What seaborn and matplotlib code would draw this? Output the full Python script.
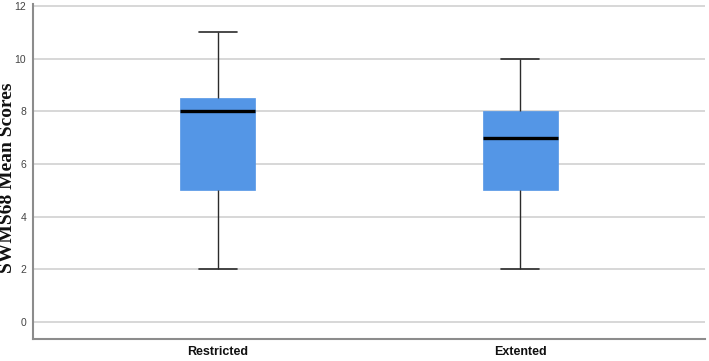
import matplotlib
matplotlib.use("Agg")
import matplotlib.pyplot as plt
import seaborn as sns
import pandas as pd

# Five-number summaries (min, Q1, median, Q3, max)
categories = ["Restricted", "Extented"]
restricted_summary = [2, 5, 8, 8.5, 11]
extented_summary = [2, 5, 7, 8, 10]
y_ticks = [0, 2, 4, 6, 8, 10, 12]
y_label = "SWMS68 Mean Scores"

box_color = "#5496E6"

df = pd.DataFrame({
    "group": [categories[0]] * len(restricted_summary) + [categories[1]] * len(extented_summary),
    "score": restricted_summary + extented_summary,
})

sns.set_theme(style="white")
plt.rcParams["font.family"] = ["Liberation Sans", "DejaVu Sans"]

fig = plt.figure(figsize=(7.09, 3.61), dpi=100)
ax = fig.add_axes([33 / 709, 22 / 361, (705 - 33) / 709, (339 - 4) / 361])

sns.boxplot(
    data=df, x="group", y="score", order=categories, ax=ax,
    width=0.25, color=box_color, saturation=1, linecolor="#2b2b2b", linewidth=1,
    boxprops=dict(edgecolor=box_color, linewidth=0.5),
    medianprops=dict(color="black", linewidth=2.4),
    whiskerprops=dict(color="#2b2b2b", linewidth=1),
    capprops=dict(color="#2b2b2b", linewidth=1.2),
    showfliers=False,
)

ax.set_xlim(-0.61, 1.61)
ax.set_ylim(-0.646, 12.076)
ax.set_yticks(y_ticks)
ax.set_yticklabels([str(t) for t in y_ticks], fontsize=7.5, color="#444444")
ax.yaxis.grid(True, color="#d4d4d4", linewidth=1.3)
ax.set_axisbelow(True)
ax.tick_params(axis="y", length=0, pad=5)
ax.tick_params(axis="x", length=0, pad=5)
for lbl in ax.get_xticklabels():
    lbl.set_fontweight("bold")
    lbl.set_fontsize(9)
    lbl.set_color("#111111")

ax.set_xlabel("")
ax.set_ylabel(y_label, fontsize=14, fontweight="bold", family=["Liberation Serif", "DejaVu Serif"],
              color="#111111", va="center")
ax.yaxis.set_label_coords(-25 / 672, (361 - 178 - 22) / 335)

for side in ["top", "right"]:
    ax.spines[side].set_visible(False)
for side in ["left", "bottom"]:
    ax.spines[side].set_color("#8c8c8c")
    ax.spines[side].set_linewidth(1.5)

fig.savefig("out.png", dpi=100)
